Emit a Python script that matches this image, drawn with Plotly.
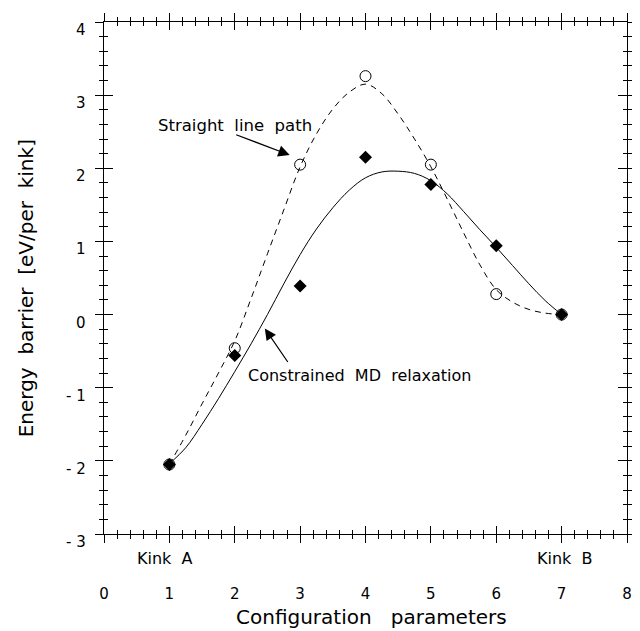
import plotly.graph_objects as go

# ---- data ----
config = [1, 2, 3, 4, 5, 6, 7]
straight_pts = [-2.05, -0.46, 2.05, 3.26, 2.05, 0.28, 0.0]
md_pts = [-2.05, -0.56, 0.39, 2.15, 1.78, 0.94, 0.0]

# fitted curves
straight_curve_x = [1.0, 1.25, 1.5, 1.75, 2.0, 2.25, 2.5, 2.75, 3.0, 3.25, 3.5, 3.75, 4.0,
                    4.25, 4.5, 4.75, 5.0, 5.25, 5.5, 5.75, 6.0, 6.25, 6.5, 6.75, 7.0]
straight_curve_y = [-2.05, -1.65, -1.22, -0.80, -0.36, 0.22, 0.83, 1.43, 2.02, 2.47, 2.81, 3.04, 3.15,
                    3.02, 2.74, 2.40, 2.02, 1.58, 1.12, 0.68, 0.34, 0.17, 0.07, 0.02, 0.0]
md_curve_x = [1.0, 1.25, 1.5, 1.75, 2.0, 2.25, 2.5, 2.75, 3.0, 3.25, 3.5, 3.75, 4.0,
              4.25, 4.5, 4.75, 5.0, 5.25, 5.5, 5.75, 6.0, 6.25, 6.5, 6.75, 7.0]
md_curve_y = [-2.04, -1.82, -1.50, -1.15, -0.78, -0.40, 0.0, 0.42, 0.82, 1.17, 1.46, 1.70, 1.87,
              1.95, 1.96, 1.93, 1.83, 1.65, 1.41, 1.16, 0.92, 0.67, 0.42, 0.19, 0.0]

x_ticks = [0, 1, 2, 3, 4, 5, 6, 7, 8]
x_ticktext = ["0", "1", "2", "3", "4", "5", "6", "7", "8"]
y_ticks = [4, 3, 2, 1, 0, -1, -2, -3]
y_ticktext = ["4", "3", "2", "1", "0", "-\u00a01", "-\u00a02", "-\u00a03"]

FONT = "DejaVu Sans"
NB = "\u00a0"

fig = go.Figure()
fig.add_trace(go.Scatter(x=straight_curve_x, y=straight_curve_y, mode="lines",
                         line=dict(color="black", width=1, dash="6px,5px", shape="spline"),
                         showlegend=False))
fig.add_trace(go.Scatter(x=md_curve_x, y=md_curve_y, mode="lines",
                         line=dict(color="black", width=1, shape="spline"),
                         showlegend=False))
fig.add_trace(go.Scatter(x=config, y=md_pts, mode="markers",
                         marker=dict(symbol="diamond", size=10, color="black"),
                         showlegend=False))
fig.add_trace(go.Scatter(x=config, y=straight_pts, mode="markers",
                         marker=dict(symbol="circle-open", size=11, color="black",
                                     line=dict(width=1)),
                         showlegend=False))
fig.add_trace(go.Scatter(x=[None], y=[None], xaxis="x2", yaxis="y2", showlegend=False))

common = dict(showline=True, linecolor="black", linewidth=1, showgrid=False,
              zeroline=False, mirror="ticks", tickcolor="black", tickwidth=1,
              automargin=False)

# the page body adds an 8px margin, so the figure is drawn 8px smaller
fig.update_layout(
    width=632, height=623,
    margin=dict(l=96, r=13, t=14, b=97),
    paper_bgcolor="white", plot_bgcolor="white",
    font=dict(family=FONT, color="black", size=15),
    xaxis=dict(range=[0, 8], tickvals=x_ticks, ticktext=x_ticktext,
               ticks="outside", ticklen=8, ticklabelstandoff=38,
               minor=dict(dtick=0.2, ticks="outside", ticklen=4, tickcolor="black"),
               tickfont=dict(family=FONT, size=15), **common),
    yaxis=dict(range=[-3, 4], tickvals=y_ticks, showticklabels=False,
               ticks="outside", ticklen=8,
               minor=dict(dtick=0.2, ticks="outside", ticklen=4, tickcolor="black"),
               **common),
    xaxis2=dict(range=[0, 8], overlaying="x", anchor="y", side="bottom",
                tickvals=x_ticks, showticklabels=False, ticks="inside", ticklen=8,
                minor=dict(dtick=0.2, ticks="inside", ticklen=4, tickcolor="black"),
                **common),
    yaxis2=dict(range=[-3, 4], overlaying="y", anchor="x", side="left",
                tickvals=y_ticks, showticklabels=False, ticks="inside", ticklen=9,
                minor=dict(dtick=0.2, ticks="inside", ticklen=4, tickcolor="black"),
                **common),
)

ann = []
# y tick labels, shifted slightly below their ticks as in the original
for v, t in zip(y_ticks, y_ticktext):
    ann.append(dict(x=0, xref="paper", y=v, yref="y", text=t, showarrow=False,
                    xanchor="right", yanchor="middle", xshift=-16, yshift=-8,
                    font=dict(family=FONT, size=15)))

ann += [
    dict(x=0.5124, xref="paper", y=-0.163, yref="paper",
         text="Configuration" + NB + NB + " parameters", showarrow=False,
         xanchor="center", yanchor="middle", font=dict(family=FONT, size=20)),
    dict(x=-0.149, xref="paper", y=0.480, yref="paper",
         text="Energy" + NB + " barrier" + NB + " [eV/per" + NB + " kink]", textangle=-90,
         showarrow=False, xanchor="center", yanchor="middle",
         font=dict(family=FONT, size=20)),
    dict(x=0.93, xref="x", y=-0.047, yref="paper", text="Kink" + NB + " A",
         showarrow=False, xanchor="center", yanchor="middle", font=dict(family=FONT, size=16)),
    dict(x=7.05, xref="x", y=-0.047, yref="paper", text="Kink" + NB + " B",
         showarrow=False, xanchor="center", yanchor="middle", font=dict(family=FONT, size=16)),
    dict(x=0.80, xref="x", y=2.58, yref="y",
         text="Straight" + NB + " line" + NB + " path", showarrow=False,
         xanchor="left", yanchor="middle", font=dict(family=FONT, size=16.5)),
    dict(x=2.17, xref="x", y=-0.83, yref="y",
         text="Constrained" + NB + " MD" + NB + " relaxation", showarrow=False,
         xanchor="left", yanchor="middle", font=dict(family=FONT, size=16)),
    dict(x=2.84, xref="x", y=2.18, yref="y", text="", showarrow=True,
         ax=-55, ay=-21, arrowhead=2, arrowsize=1.9, arrowwidth=1.2, arrowcolor="black"),
    dict(x=2.46, xref="x", y=-0.19, yref="y", text="", showarrow=True,
         ax=24, ay=35, arrowhead=2, arrowsize=1.9, arrowwidth=1.2, arrowcolor="black"),
]
fig.update_layout(annotations=ann)

fig.write_html("out.html")
